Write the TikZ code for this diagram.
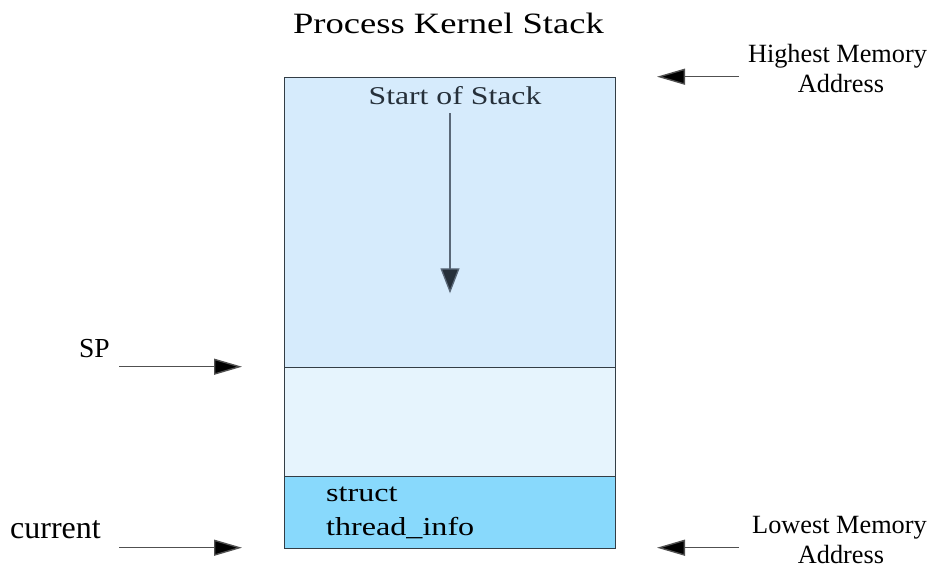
\documentclass[tikz,border=0pt]{standalone}
\usepackage{fontspec}
\setmainfont{Liberation Serif}
\newfontfamily\widefont{Liberation Serif}[FakeStretch=1.24]
\usetikzlibrary{arrows.meta}

\definecolor{stackTop}{HTML}{D6EBFC}
\definecolor{stackMid}{HTML}{E6F4FD}
\definecolor{stackInfo}{HTML}{88D9FC}
\definecolor{frameCol}{HTML}{333D45}
\definecolor{slateText}{HTML}{26303A}
\definecolor{slateLine}{HTML}{5A6878}
\definecolor{pointerLine}{HTML}{505050}

\tikzset{
  region/.style={draw=frameCol, line width=1.3pt, minimum width=331pt, inner sep=0pt, anchor=north west},
  lbl/.style={inner sep=0pt, anchor=base},
  pointer/.style={draw=pointerLine, line width=1.4pt, -{Triangle[length=28pt,width=16pt,fill=black]}},
}

\begin{document}
\begin{tikzpicture}[x=1pt, y=-1pt]
  \useasboundingbox (0,0) rectangle (938,568);

  % title
  \node[lbl] (title) at (448.5,33) {\widefont\fontsize{29.5}{34}\selectfont Process Kernel Stack};

  % the three regions of the kernel stack
  \node[region, fill=stackTop,  minimum height=290pt] (top) at (284,76.7) {};
  \node[region, fill=stackMid,  minimum height=109.3pt] (mid) at (284,366.7) {};
  \node[region, fill=stackInfo, minimum height=71.7pt] (info) at (284,476) {};

  % growth direction of the stack
  \node[lbl, text=slateText] (start) at (455,104) {\widefont\fontsize{25.6}{30}\selectfont Start of Stack};
  \coordinate (growFrom) at (450,113);
  \coordinate (growTo) at (450,293.3);
  \draw[draw=slateLine, line width=1.3pt, -{Triangle[length=25pt,width=19pt,fill=slateText]}] (growFrom) -- (growTo);

  % thread_info label
  \node[lbl, anchor=base west] (struct) at (326,501.7) {\widefont\fontsize{25.9}{30}\selectfont struct};
  \node[lbl, anchor=base west] (tinfo) at (326,535) {\widefont\fontsize{25.9}{30}\selectfont thread\_info};

  % left pointers
  \node[lbl, anchor=base west] (sp) at (79,357) {\fontsize{27.5}{32}\selectfont SP};
  \coordinate (spFrom) at (119,366.7);
  \coordinate (spTo) at (242,366.7);
  \draw[pointer] (spFrom) -- (spTo);

  \node[lbl, anchor=base west] (current) at (10,538) {\fontsize{32}{36}\selectfont current};
  \coordinate (curFrom) at (119,547.7);
  \coordinate (curTo) at (242,547.7);
  \draw[pointer] (curFrom) -- (curTo);

  % right pointers
  \node[lbl] (hi1) at (837.5,62) {\fontsize{26.3}{30}\selectfont Highest Memory};
  \node[lbl] (hi2) at (841,92) {\fontsize{26.3}{30}\selectfont Address};
  \coordinate (hiFrom) at (739,76.7);
  \coordinate (hiTo) at (657,76.7);
  \draw[pointer] (hiFrom) -- (hiTo);

  \node[lbl] (lo1) at (839.5,533) {\fontsize{26.3}{30}\selectfont Lowest Memory};
  \node[lbl] (lo2) at (841,563) {\fontsize{26.3}{30}\selectfont Address};
  \coordinate (loFrom) at (739,547.7);
  \coordinate (loTo) at (657,547.7);
  \draw[pointer] (loFrom) -- (loTo);
\end{tikzpicture}
\end{document}
